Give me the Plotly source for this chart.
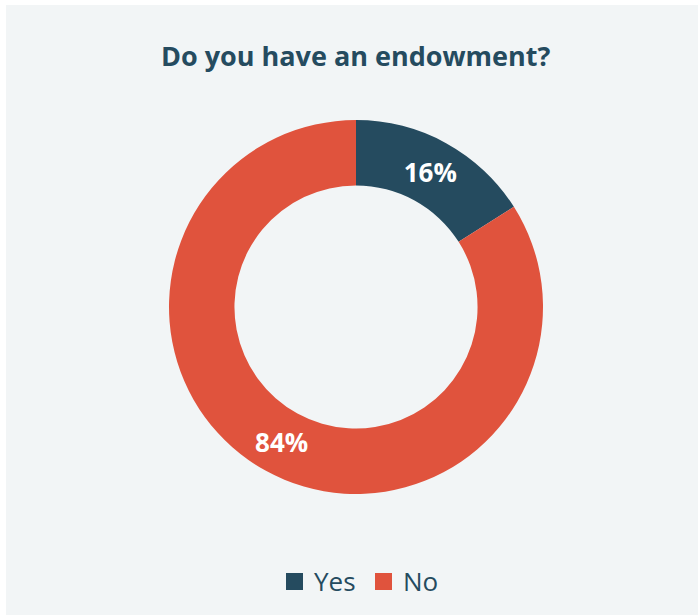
import plotly.graph_objects as go

W, H = 698, 615
categories = ["Yes", "No"]
values = [16, 84]
colors = ["#254B5F", "#E0533D"]
title_text = "Do you have an endowment?"

BG = "#F2F5F6"
DARK = "#254B5F"

def px(x):
    return x / W

def py(y):
    return 1 - y / H

fig = go.Figure()
fig.add_trace(go.Pie(
    labels=categories,
    values=values,
    marker=dict(colors=colors, line=dict(width=0)),
    hole=0.65,
    sort=False,
    direction="clockwise",
    rotation=0,
    textinfo="text",
    texttemplate="%{value}%",
    textposition="inside",
    insidetextorientation="horizontal",
    textfont=dict(family="Open Sans", size=26, color="white", weight="bold"),
    domain=dict(x=[px(169), px(543)], y=[py(494), py(120)]),
    hoverinfo="label+percent",
    showlegend=False,
))

shapes = [dict(type="rect", xref="paper", yref="paper",
               x0=px(6), x1=1.0, y0=0, y1=py(5),
               fillcolor=BG, line=dict(width=0), layer="below")]
annotations = [dict(text="<b>" + title_text + "</b>", x=px(356), y=py(55),
                    xref="paper", yref="paper", xanchor="center", yanchor="middle",
                    showarrow=False, font=dict(family="Open Sans", size=27, color=DARK))]

# custom legend (square swatch + label)
legend_x = [286, 375]
for cat, col, x0 in zip(categories, colors, legend_x):
    shapes.append(dict(type="rect", xref="paper", yref="paper",
                       x0=px(x0), x1=px(x0 + 17), y0=py(590), y1=py(573),
                       fillcolor=col, line=dict(width=0)))
    annotations.append(dict(text=cat, x=px(x0 + 26), y=py(581), xref="paper", yref="paper",
                            xanchor="left", yanchor="middle", showarrow=False,
                            font=dict(family="Open Sans", size=26, color=DARK)))

fig.update_layout(
    width=W, height=H,
    margin=dict(l=0, r=0, t=0, b=0),
    paper_bgcolor="white",
    plot_bgcolor="white",
    font=dict(family="Open Sans", color=DARK),
    shapes=shapes,
    annotations=annotations,
    showlegend=False,
)

fig.write_html("out.html")
